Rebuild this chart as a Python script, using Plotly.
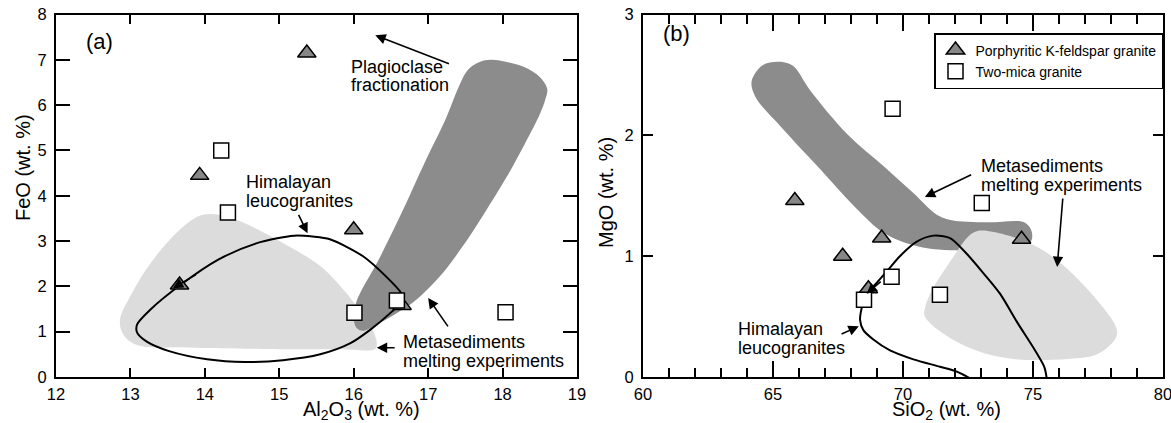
import plotly.graph_objects as go

# ---------------- data: panel (a) FeO vs Al2O3 ----------------
a_tri_x = [15.37, 13.93, 16.0, 13.66, 16.65]
a_tri_y = [7.15, 4.45, 3.25, 2.03, 1.58]
a_sq_x = [14.22, 14.31, 16.01, 16.58, 18.04]
a_sq_y = [5.0, 3.63, 1.42, 1.69, 1.43]

# light grey field (a)
a_light_x = [12.86, 12.9, 13.07, 13.78, 14.79, 15.81, 16.29, 16.31, 16.25, 16.06, 15.85, 15.55,
             15.0, 14.5, 14.18, 13.98, 13.83, 13.57, 13.27, 13.02, 12.86]
a_light_y = [1.27, 0.95, 0.72, 0.65, 0.62, 0.61, 0.62, 0.76, 1.05, 1.52, 1.95, 2.45,
             3.0, 3.42, 3.58, 3.58, 3.47, 3.1, 2.51, 1.85, 1.27]
# dark grey band (a)
a_dark_x = [16.04, 16.0, 16.03, 16.11, 16.31, 16.62, 16.97, 17.23, 17.41, 17.53, 17.69, 17.84,
            18.04, 18.29, 18.5, 18.6, 18.57, 18.5, 18.3, 18.05, 17.75, 17.45, 17.2, 17.0,
            16.8, 16.55, 16.3, 16.12, 16.04]
a_dark_y = [1.08, 1.27, 1.63, 1.93, 2.51, 3.54, 4.79, 5.67, 6.4, 6.77, 6.95, 7.0,
            6.96, 6.84, 6.62, 6.36, 6.1, 5.8, 5.15, 4.4, 3.6, 2.85, 2.3, 1.95,
            1.65, 1.38, 1.15, 1.02, 1.08]
# Himalayan leucogranites loop (a)
a_loop_x = [13.09, 13.27, 13.68, 14.18, 14.69, 15.2, 15.45, 15.68, 16.13, 16.44, 16.64, 16.67,
            16.49, 16.22, 15.95, 15.55, 15.05, 14.54, 14.03, 13.52, 13.22, 13.09, 13.09]
a_loop_y = [1.16, 1.49, 2.04, 2.59, 2.95, 3.12, 3.1, 3.04, 2.66, 2.21, 1.85, 1.72,
            1.41, 1.04, 0.74, 0.5, 0.37, 0.33, 0.39, 0.57, 0.78, 0.98, 1.16]

# ---------------- data: panel (b) MgO vs SiO2 ----------------
b_tri_x = [65.84, 67.68, 69.18, 74.56, 68.67]
b_tri_y = [1.46, 1.0, 1.15, 1.14, 0.73]
b_sq_x = [69.6, 73.03, 69.56, 71.42, 68.5]
b_sq_y = [2.22, 1.44, 0.83, 0.68, 0.64]

b_dark_x = [64.18, 64.6, 65.17, 65.74, 66.44, 67.86, 69.28, 70.41, 71.26, 71.83, 73.24, 74.66,
            74.94, 74.94, 74.66, 73.53, 72.11, 71.12, 70.41, 69.28, 68.14, 66.73, 65.31, 64.32, 64.18]
b_dark_y = [2.45, 2.58, 2.61, 2.58, 2.37, 2.01, 1.74, 1.52, 1.35, 1.3, 1.28, 1.28,
            1.21, 1.13, 1.08, 1.06, 1.05, 1.06, 1.09, 1.19, 1.41, 1.74, 2.07, 2.32, 2.45]
b_light_x = [72.9, 73.5, 74.94, 76.08, 77.49, 78.2, 78.2, 77.49, 76.36, 74.23, 72.82, 71.54,
             70.84, 70.84, 71.12, 71.83, 72.54, 72.9]
b_light_y = [1.21, 1.2, 1.1, 0.94, 0.63, 0.41, 0.33, 0.19, 0.15, 0.15, 0.22, 0.36,
             0.5, 0.57, 0.72, 0.96, 1.17, 1.21]
b_curve_x = [72.9, 72.07, 71.42, 70.4, 69.5, 68.86, 68.47, 68.35, 68.41, 68.6, 68.95, 69.4, 69.88,
             70.53, 71.17, 71.81, 72.45, 73.09, 73.73, 74.4, 75.08, 75.44, 75.55]
b_curve_y = [-0.05, 0.044, 0.085, 0.146, 0.22, 0.31, 0.39, 0.47, 0.57, 0.69, 0.77, 0.88, 1.0,
             1.12, 1.17, 1.15, 1.02, 0.86, 0.69, 0.45, 0.22, 0.08, -0.05]

# axis ticks
a_xticks = [12, 13, 14, 15, 16, 17, 18, 19]
a_yticks = [0, 1, 2, 3, 4, 5, 6, 7, 8]
b_xticks = [60, 65, 70, 75, 80]
b_yticks = [0, 1, 2, 3]

DARK = "#8c8c8c"
LIGHT = "#dcdcdc"
TRI = "#878787"
FONT = "Liberation Sans, Arial, sans-serif"

fig = go.Figure()

def field(x, y, color, xa, ya):
    fig.add_trace(go.Scatter(x=x, y=y, mode="lines", fill="toself", fillcolor=color,
                             line=dict(width=0, color=color, shape="spline", smoothing=1.0),
                             hoverinfo="skip", showlegend=False, xaxis=xa, yaxis=ya))

def curve(x, y, xa, ya):
    fig.add_trace(go.Scatter(x=x, y=y, mode="lines",
                             line=dict(width=2, color="black", shape="spline", smoothing=0.8),
                             hoverinfo="skip", showlegend=False, xaxis=xa, yaxis=ya))

# panel a
field(a_light_x, a_light_y, LIGHT, "x", "y")
field(a_dark_x, a_dark_y, DARK, "x", "y")
curve(a_loop_x, a_loop_y, "x", "y")
# panel b
field(b_dark_x, b_dark_y, DARK, "x2", "y2")
field(b_light_x, b_light_y, LIGHT, "x2", "y2")
curve(b_curve_x, b_curve_y, "x2", "y2")

tri_marker = dict(symbol="triangle-up", size=16, color=TRI, line=dict(color="black", width=1.5))
sq_marker = dict(symbol="square", size=15, color="white", line=dict(color="black", width=1.5))

fig.add_trace(go.Scatter(x=a_tri_x, y=a_tri_y, mode="markers", marker=tri_marker,
                         name="Porphyritic K-feldspar granite", legendgroup="t",
                         showlegend=False, xaxis="x", yaxis="y"))
fig.add_trace(go.Scatter(x=a_sq_x, y=a_sq_y, mode="markers", marker=sq_marker,
                         name="Two-mica granite", legendgroup="s",
                         showlegend=False, xaxis="x", yaxis="y"))
fig.add_trace(go.Scatter(x=b_tri_x, y=b_tri_y, mode="markers", marker=tri_marker,
                         name="Porphyritic K-feldspar granite", legendgroup="t",
                         showlegend=True, xaxis="x2", yaxis="y2"))
fig.add_trace(go.Scatter(x=b_sq_x, y=b_sq_y, mode="markers", marker=sq_marker,
                         name="Two-mica granite", legendgroup="s",
                         showlegend=True, xaxis="x2", yaxis="y2"))

W, H = 1171, 423
def px(v):
    return v / W
def py(v):
    return 1 - v / H

axis_common = dict(showline=True, linewidth=2, linecolor="black", mirror="ticks",
                   ticks="inside", tickwidth=1.8, tickcolor="black", showgrid=False,
                   zeroline=False, automargin=False, ticklabeloverflow="allow",
                   tickfont=dict(family=FONT, size=16.5, color="black"))

fig.update_layout(
    width=W, height=H, margin=dict(l=0, r=0, t=0, b=0),
    paper_bgcolor="white", plot_bgcolor="white",
    font=dict(family=FONT, color="black"),
    xaxis=dict(domain=[px(56), px(577)], range=[12, 19], tickvals=a_xticks, ticklen=9,
               anchor="y", ticklabelstandoff=1, **axis_common),
    yaxis=dict(domain=[py(377), py(14.5)], range=[0, 8], tickvals=a_yticks, ticklen=14,
               anchor="x", ticklabelstandoff=4, **axis_common),
    xaxis2=dict(domain=[px(643), px(1163)], range=[60, 80], tickvals=b_xticks, ticklen=16,
                anchor="y2", ticklabelstandoff=1,
                minor=dict(dtick=1, tick0=60, ticks="inside", ticklen=9, tickwidth=1.8,
                           tickcolor="black", showgrid=False),
                **axis_common),
    yaxis2=dict(domain=[py(377), py(14.5)], range=[0, 3], tickvals=b_yticks, ticklen=10,
                anchor="x2", ticklabelstandoff=4, **axis_common),
    legend=dict(x=px(1163), xanchor="right", y=py(33), yanchor="top",
                bgcolor="white", bordercolor="black", borderwidth=1.5,
                font=dict(family=FONT, size=14, color="black"),
                itemwidth=30, tracegroupgap=0),
)

ann = []
def text(x, y, s, xr, yr, size=18):
    ann.append(dict(x=x, y=y, xref=xr, yref=yr, text=s, showarrow=False, xanchor="left",
                    yanchor="middle", font=dict(family=FONT, size=size, color="black")))

def arrow(x0, y0, x1, y1, xr, yr):
    ann.append(dict(x=x1, y=y1, ax=x0, ay=y0, xref=xr, yref=yr, axref=xr, ayref=yr,
                    text="", showarrow=True, arrowhead=2, arrowsize=1.3, arrowwidth=1.6,
                    arrowcolor="black"))

# panel a texts
text(12.38, 7.4, "(a)", "x", "y", 22)
text(15.93, 6.84, "Plagioclase", "x", "y")
text(15.93, 6.44, "fractionation", "x", "y")
text(14.53, 4.31, "Himalayan", "x", "y")
text(14.53, 3.89, "leucogranites", "x", "y")
text(16.64, 0.77, "Metasediments", "x", "y")
text(16.64, 0.35, "melting experiments", "x", "y")
arrow(17.3, 6.9, 16.29, 7.54, "x", "y")
arrow(15.25, 3.61, 15.38, 3.17, "x", "y")
arrow(17.28, 1.085, 17.0, 1.745, "x", "y")
arrow(16.57, 0.645, 16.31, 0.645, "x", "y")
arrow(13.9, 2.28, 13.57, 1.96, "x", "y")

# panel b texts
text(60.68, 2.84, "(b)", "x2", "y2", 22)
text(72.93, 1.75, "Metasediments", "x2", "y2")
text(72.93, 1.59, "melting experiments", "x2", "y2")
text(63.58, 0.40, "Himalayan", "x2", "y2")
text(63.58, 0.24, "leucogranites", "x2", "y2")
arrow(72.68, 1.68, 70.84, 1.49, "x2", "y2")
arrow(76.15, 1.49, 75.93, 0.91, "x2", "y2")
arrow(67.58, 0.35, 68.3, 0.42, "x2", "y2")
arrow(69.2, 0.8, 68.6, 0.69, "x2", "y2")

# axis titles
def title(x, y, s, angle=0):
    ann.append(dict(x=x, y=y, xref="paper", yref="paper", text=s, showarrow=False,
                    xanchor="center", yanchor="middle", textangle=angle,
                    font=dict(family=FONT, size=20, color="black")))

title(px(361), py(410), "Al<sub>2</sub>O<sub>3</sub> (wt. %)")
title(px(946), py(410), "SiO<sub>2</sub> (wt. %)")
title(px(23), py(168), "FeO (wt. %)", -90)
title(px(606), py(193), "MgO (wt. %)", -90)

fig.update_layout(annotations=ann)
fig.write_html("out.html")
